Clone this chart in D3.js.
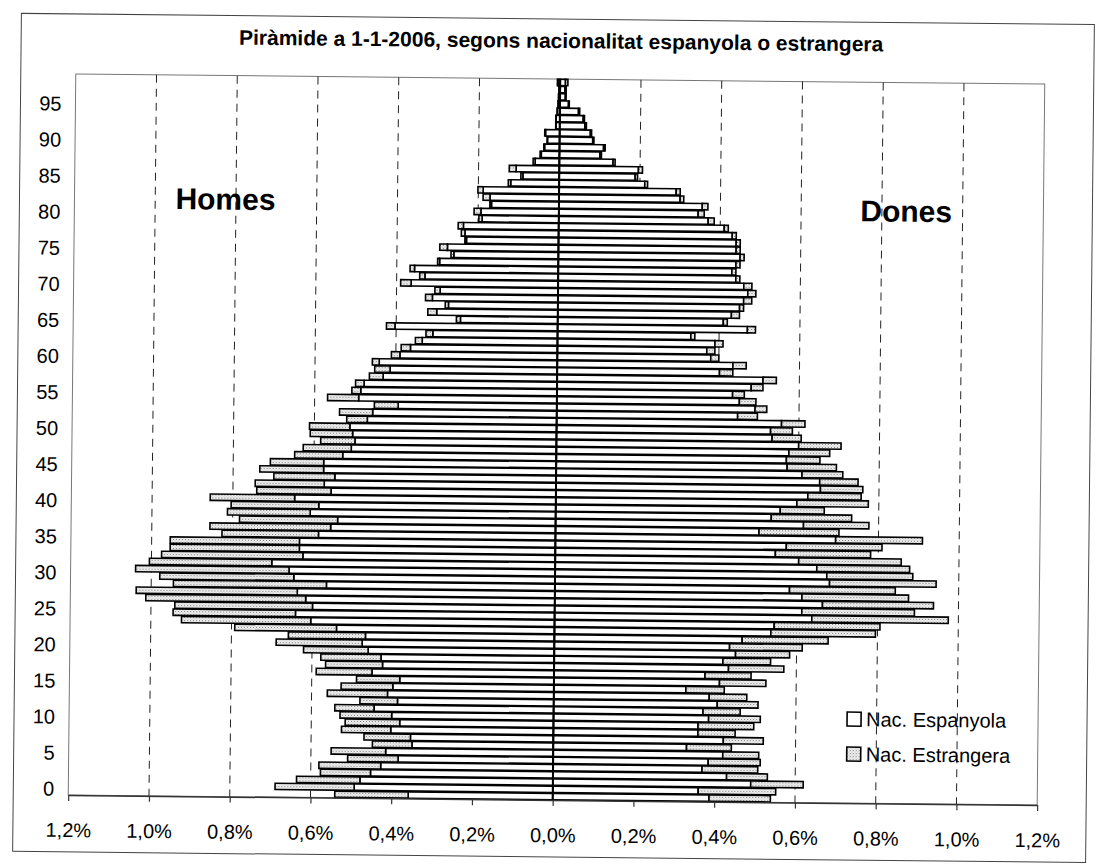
<!DOCTYPE html>
<html>
<head>
<meta charset="utf-8">
<script src="https://cdn.jsdelivr.net/npm/d3@7"></script>
<style>
  body { margin: 0; background: #fff; }
  svg { display: block; font-family: "Liberation Sans", Arial, sans-serif; }
</style>
</head>
<body>
<div id="chart"></div>
<script>
// ages 0..99, one bar per year
const ages = d3.range(0, 100);

// % of total population
const homesEspanyola = [
  0.358, 0.492, 0.478, 0.452, 0.427, 0.384, 0.415, 0.350, 0.354, 0.403,
  0.381, 0.401, 0.445, 0.387, 0.412, 0.399, 0.382, 0.451, 0.425, 0.429,
  0.461, 0.476, 0.468, 0.540, 0.604, 0.642, 0.600, 0.617, 0.638, 0.566,
  0.647, 0.659, 0.702, 0.625, 0.634, 0.634, 0.587, 0.557, 0.540, 0.608,
  0.587, 0.647, 0.557, 0.574, 0.548, 0.576, 0.576, 0.529, 0.508, 0.499,
  0.505, 0.512, 0.469, 0.456, 0.393, 0.491, 0.486, 0.478, 0.431, 0.414,
  0.441, 0.390, 0.364, 0.335, 0.309, 0.403, 0.241, 0.300, 0.271, 0.311,
  0.292, 0.364, 0.330, 0.356, 0.294, 0.259, 0.275, 0.228, 0.232, 0.236,
  0.190, 0.193, 0.167, 0.171, 0.188, 0.120, 0.090, 0.107, 0.060, 0.045,
  0.037, 0.030, 0.035, 0.009, 0.009, 0.006, 0.004, 0.003, 0.002, 0.005
];
const homesEstrangera = [
  0.182, 0.196, 0.157, 0.124, 0.153, 0.125, 0.135, 0.098, 0.115, 0.122,
  0.135, 0.128, 0.097, 0.093, 0.149, 0.128, 0.107, 0.138, 0.141, 0.149,
  0.160, 0.213, 0.191, 0.252, 0.320, 0.303, 0.341, 0.396, 0.399, 0.379,
  0.332, 0.380, 0.303, 0.350, 0.320, 0.320, 0.239, 0.299, 0.243, 0.205,
  0.217, 0.209, 0.184, 0.171, 0.151, 0.158, 0.132, 0.119, 0.119, 0.085,
  0.105, 0.100, 0.051, 0.082, 0.059, 0.077, 0.022, 0.021, 0.034, 0.038,
  0.017, 0.021, 0.023, 0.017, 0.017, 0.021, 0.010, 0.022, 0.008, 0.017,
  0.013, 0.026, 0.013, 0.011, 0.005, 0.007, 0.019, 0.004, 0.009, 0.013,
  0.008, 0.017, 0.004, 0.017, 0.013, 0.006, 0.005, 0.017, 0.005, 0.003,
  0.002, 0.001, 0.002, 0.001, 0.001, 0.001, 0.001, 0.001, 0.001, 0.002
];
const donesEspanyola = [
  0.387, 0.360, 0.490, 0.430, 0.369, 0.384, 0.420, 0.330, 0.421, 0.358,
  0.358, 0.384, 0.370, 0.405, 0.385, 0.327, 0.410, 0.374, 0.432, 0.418,
  0.449, 0.434, 0.465, 0.536, 0.544, 0.637, 0.612, 0.663, 0.612, 0.581,
  0.680, 0.673, 0.648, 0.603, 0.545, 0.572, 0.694, 0.504, 0.614, 0.534,
  0.556, 0.597, 0.624, 0.655, 0.653, 0.609, 0.572, 0.570, 0.576, 0.600,
  0.534, 0.530, 0.557, 0.448, 0.491, 0.452, 0.435, 0.481, 0.510, 0.402,
  0.435, 0.380, 0.370, 0.390, 0.330, 0.470, 0.410, 0.430, 0.450, 0.460,
  0.470, 0.460, 0.440, 0.430, 0.440, 0.450, 0.440, 0.440, 0.430, 0.410,
  0.370, 0.345, 0.355, 0.300, 0.290, 0.212, 0.188, 0.196, 0.133, 0.100,
  0.109, 0.082, 0.076, 0.062, 0.058, 0.046, 0.021, 0.013, 0.012, 0.013
];
const donesEstrangera = [
  0.152, 0.192, 0.130, 0.101, 0.138, 0.129, 0.089, 0.111, 0.099, 0.092,
  0.138, 0.128, 0.092, 0.101, 0.093, 0.095, 0.115, 0.114, 0.137, 0.118,
  0.134, 0.180, 0.213, 0.259, 0.262, 0.338, 0.279, 0.275, 0.264, 0.262,
  0.264, 0.213, 0.230, 0.254, 0.236, 0.237, 0.215, 0.198, 0.162, 0.199,
  0.109, 0.177, 0.132, 0.105, 0.095, 0.101, 0.122, 0.083, 0.101, 0.105,
  0.072, 0.054, 0.058, 0.049, 0.029, 0.041, 0.029, 0.029, 0.033, 0.033,
  0.033, 0.020, 0.020, 0.020, 0.010, 0.020, 0.010, 0.020, 0.010, 0.020,
  0.020, 0.020, 0.010, 0.010, 0.010, 0.010, 0.010, 0.010, 0.010, 0.010,
  0.015, 0.015, 0.014, 0.009, 0.010, 0.007, 0.006, 0.010, 0.005, 0.004,
  0.004, 0.003, 0.003, 0.004, 0.003, 0.003, 0.002, 0.002, 0.003, 0.006
];

const xTicks = [-1.2, -1.0, -0.8, -0.6, -0.4, -0.2, 0, 0.2, 0.4, 0.6, 0.8, 1.0, 1.2];
const gridTicks = [-1.0, -0.8, -0.6, -0.4, -0.2, 0.2, 0.4, 0.6, 0.8, 1.0];
const ageTicks = d3.range(0, 100, 5);
const legendLabels = ['Nac. Espanyola', 'Nac. Estrangera'];

const width = 1113;
const height = 868;
const plot = { left: 72, right: 1041, top: 79, bottom: 800 };

const svg = d3.select('#chart').append('svg')
  .attr('width', width)
  .attr('height', height);

// stipple used for the foreign nationals
const defs = svg.append('defs');
const pat = defs.append('pattern')
  .attr('id', 'stipple')
  .attr('width', 3).attr('height', 3)
  .attr('patternUnits', 'userSpaceOnUse');
pat.append('rect').attr('width', 3).attr('height', 3).attr('fill', '#f2f2f2');
pat.append('rect').attr('x', 0).attr('y', 0).attr('width', 1).attr('height', 1).attr('fill', '#777');
pat.append('rect').attr('x', 1.5).attr('y', 1.5).attr('width', 1).attr('height', 1).attr('fill', '#aaa');

// the scan is slightly tilted
const root = svg.append('g').attr('transform', 'rotate(0.6, 556, 438)');

root.append('rect')
  .attr('x', 17).attr('y', 19)
  .attr('width', 1073).attr('height', 838)
  .attr('fill', 'none')
  .attr('stroke', '#444')
  .attr('stroke-width', 1);

const x = d3.scaleLinear().domain([-1.2, 1.2]).range([plot.left, plot.right]);
const y = d3.scaleBand().domain(ages).range([plot.bottom, plot.top]).paddingInner(0.12).paddingOuter(0.04);

// plot frame
root.append('rect')
  .attr('x', plot.left).attr('y', plot.top)
  .attr('width', plot.right - plot.left).attr('height', plot.bottom - plot.top)
  .attr('fill', 'none')
  .attr('stroke', '#777')
  .attr('stroke-width', 1);

// dashed gridlines
root.append('g')
  .selectAll('line')
  .data(gridTicks)
  .join('line')
  .attr('x1', (d) => x(d)).attr('x2', (d) => x(d))
  .attr('y1', plot.top).attr('y2', plot.bottom)
  .attr('stroke', '#222')
  .attr('stroke-width', 1)
  .attr('stroke-dasharray', '8,6');

const rows = ages.map((a, i) => ({
  age: a,
  hEsp: homesEspanyola[i], hEst: homesEstrangera[i],
  dEsp: donesEspanyola[i], dEst: donesEstrangera[i],
}));

const bars = root.append('g')
  .attr('stroke', '#000')
  .attr('stroke-width', 1.6);

// men, to the left
bars.selectAll('rect.h-esp')
  .data(rows).join('rect')
  .attr('class', 'h-esp')
  .attr('x', (d) => x(-d.hEsp))
  .attr('y', (d) => y(d.age))
  .attr('width', (d) => x(0) - x(-d.hEsp))
  .attr('height', y.bandwidth())
  .attr('fill', '#fff');

bars.selectAll('rect.h-est')
  .data(rows).join('rect')
  .attr('class', 'h-est')
  .attr('x', (d) => x(-(d.hEsp + d.hEst)))
  .attr('y', (d) => y(d.age))
  .attr('width', (d) => x(-d.hEsp) - x(-(d.hEsp + d.hEst)))
  .attr('height', y.bandwidth())
  .attr('fill', 'url(#stipple)');

// women, to the right
bars.selectAll('rect.d-esp')
  .data(rows).join('rect')
  .attr('class', 'd-esp')
  .attr('x', x(0))
  .attr('y', (d) => y(d.age))
  .attr('width', (d) => x(d.dEsp) - x(0))
  .attr('height', y.bandwidth())
  .attr('fill', '#fff');

bars.selectAll('rect.d-est')
  .data(rows).join('rect')
  .attr('class', 'd-est')
  .attr('x', (d) => x(d.dEsp))
  .attr('y', (d) => y(d.age))
  .attr('width', (d) => x(d.dEsp + d.dEst) - x(d.dEsp))
  .attr('height', y.bandwidth())
  .attr('fill', 'url(#stipple)');

// category axis sits on 0
root.append('line')
  .attr('x1', x(0)).attr('x2', x(0))
  .attr('y1', plot.top).attr('y2', plot.bottom)
  .attr('stroke', '#000')
  .attr('stroke-width', 2);

// value axis
const fmt = (d) => Math.abs(d).toFixed(1).replace('.', ',') + '%';
const xAxis = root.append('g')
  .attr('transform', `translate(0, ${plot.bottom})`)
  .call(d3.axisBottom(x).tickValues(xTicks).tickFormat(fmt).tickSize(6).tickSizeOuter(0).tickPadding(22));
xAxis.select('.domain').attr('stroke', '#333').attr('stroke-width', 1.5);
xAxis.selectAll('.tick line').attr('stroke', '#333').attr('stroke-width', 1.2);
xAxis.selectAll('text').attr('font-size', 20).attr('font-family', 'Liberation Sans, Arial, sans-serif').attr('fill', '#000');

// age labels on the left
const yAxis = root.append('g')
  .attr('transform', 'translate(58, -2)')
  .call(d3.axisLeft(y).tickValues(ageTicks).tickSize(0).tickPadding(0));
yAxis.select('.domain').remove();
yAxis.selectAll('text').attr('font-size', 20).attr('font-family', 'Liberation Sans, Arial, sans-serif').attr('fill', '#000');

// title
root.append('text')
  .attr('x', 557).attr('y', 48)
  .attr('text-anchor', 'middle')
  .attr('font-size', 21)
  .attr('font-weight', 'bold')
  .text('Piràmide a 1-1-2006, segons nacionalitat espanyola o estrangera');

root.append('text')
  .attr('x', 173).attr('y', 213)
  .attr('font-size', 30).attr('font-weight', 'bold')
  .text('Homes');

root.append('text')
  .attr('x', 858).attr('y', 218)
  .attr('font-size', 30).attr('font-weight', 'bold')
  .text('Dones');

// legend
const legend = root.append('g').attr('transform', 'translate(850, 709)');
const item = legend.selectAll('g')
  .data(legendLabels)
  .join('g')
  .attr('transform', (d, i) => `translate(0, ${i * 35})`);
item.append('rect')
  .attr('width', 14).attr('height', 14)
  .attr('stroke', '#000').attr('stroke-width', 1.6)
  .attr('fill', (d, i) => (i === 0 ? '#fff' : 'url(#stipple)'));
item.append('text')
  .attr('x', 19).attr('y', 14)
  .attr('font-size', 20)
  .text((d) => d);
</script>
</body>
</html>
